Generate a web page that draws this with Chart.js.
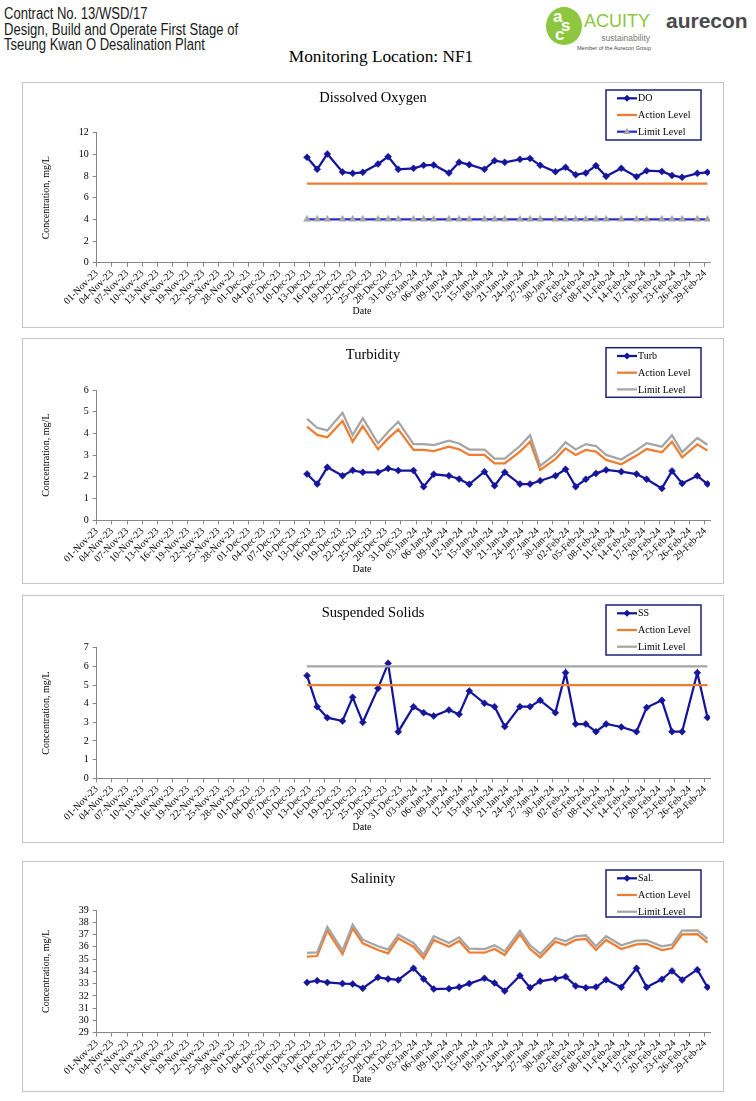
<!DOCTYPE html>
<html><head><meta charset="utf-8">
<script src="https://cdn.jsdelivr.net/npm/chart.js@4.4.0/dist/chart.umd.min.js"></script>
<style>
html,body{margin:0;padding:0;background:#fff;}
body{width:756px;height:1101px;position:relative;overflow:hidden;}
.hdr{position:absolute;left:4px;top:6px;font-family:"Liberation Sans",Arial,sans-serif;font-size:16px;line-height:15.7px;color:#1a1a1a;white-space:nowrap;transform:scaleX(0.815);transform-origin:0 0;}
.loc{position:absolute;left:0;width:762px;top:47px;text-align:center;font-family:"Liberation Serif","Times New Roman",serif;font-size:17.3px;color:#000;}
.box{position:absolute;left:22px;width:702px;border:1.5px solid #c4c4c4;box-sizing:border-box;}
canvas{position:absolute;left:23px;}
.circ{position:absolute;left:546px;top:7px;width:36px;height:38px;border-radius:50%;background:#8DC63F;overflow:hidden;font-family:"Liberation Sans",Arial,sans-serif;font-weight:bold;color:#fff;}
.circ span{position:absolute;font-size:17px;line-height:17px;}
.acu{position:absolute;left:584px;top:11px;font-family:"Liberation Sans",Arial,sans-serif;font-size:18px;color:#8DC63F;}
.sus{position:absolute;left:600px;top:33px;width:50px;text-align:right;font-family:"Liberation Sans",Arial,sans-serif;font-size:8.5px;color:#777;}
.mem{position:absolute;left:577px;top:45px;font-family:"Liberation Sans",Arial,sans-serif;font-size:5.5px;color:#444;white-space:nowrap;}
.aur{position:absolute;left:666px;top:9px;font-family:"Liberation Sans",Arial,sans-serif;font-weight:bold;font-size:21px;color:#4a4a4c;}
</style></head>
<body>
<div class="hdr">Contract No. 13/WSD/17<br>Design, Build and Operate First Stage of<br>Tseung Kwan O Desalination Plant</div>
<div class="loc">Monitoring Location: NF1</div>
<div class="circ"><span style="left:7px;top:1px">a</span><span style="left:15px;top:10px">s</span><span style="left:9px;top:19px">c</span></div>
<div class="acu">ACUITY</div>
<div class="sus">sustainability</div>
<div class="mem">Member of the Aurecon Group</div>
<div class="aur">aurecon</div>

<div class="box" style="top:82px;height:246px"></div>
<div class="box" style="top:338px;height:246px"></div>
<div class="box" style="top:595px;height:248px"></div>
<div class="box" style="top:861px;height:231px"></div>
<canvas id="c1" width="700" height="244" style="top:83px"></canvas>
<canvas id="c2" width="700" height="244" style="top:339px"></canvas>
<canvas id="c3" width="700" height="246" style="top:596px"></canvas>
<canvas id="c4" width="700" height="229" style="top:862px"></canvas>

<script>
// ---------------- data ----------------
const tickLabels = ['01-Nov-23','04-Nov-23','07-Nov-23','10-Nov-23','13-Nov-23','16-Nov-23','19-Nov-23','22-Nov-23','25-Nov-23','28-Nov-23','01-Dec-23','04-Dec-23','07-Dec-23','10-Dec-23','13-Dec-23','16-Dec-23','19-Dec-23','22-Dec-23','25-Dec-23','28-Dec-23','31-Dec-23','03-Jan-24','06-Jan-24','09-Jan-24','12-Jan-24','15-Jan-24','18-Jan-24','21-Jan-24','24-Jan-24','27-Jan-24','30-Jan-24','02-Feb-24','05-Feb-24','08-Feb-24','11-Feb-24','14-Feb-24','17-Feb-24','20-Feb-24','23-Feb-24','26-Feb-24','29-Feb-24'];

const sampleDates = ['12-Dec-23','14-Dec-23','16-Dec-23','19-Dec-23','21-Dec-23','23-Dec-23','26-Dec-23','28-Dec-23','30-Dec-23','02-Jan-24','04-Jan-24','06-Jan-24','09-Jan-24','11-Jan-24','13-Jan-24','16-Jan-24','18-Jan-24','20-Jan-24','23-Jan-24','25-Jan-24','27-Jan-24','30-Jan-24','01-Feb-24','03-Feb-24','05-Feb-24','07-Feb-24','09-Feb-24','12-Feb-24','15-Feb-24','17-Feb-24','20-Feb-24','22-Feb-24','24-Feb-24','27-Feb-24','29-Feb-24'];

const doValues = [9.73,8.62,10.04,8.37,8.25,8.34,9.11,9.79,8.62,8.71,8.99,9.02,8.28,9.27,9.05,8.62,9.42,9.27,9.54,9.63,8.99,8.40,8.80,8.12,8.28,8.96,7.97,8.71,7.94,8.49,8.43,8.06,7.88,8.25,8.34];
const doAction = [7.3,7.3,7.3,7.3,7.3,7.3,7.3,7.3,7.3,7.3,7.3,7.3,7.3,7.3,7.3,7.3,7.3,7.3,7.3,7.3,7.3,7.3,7.3,7.3,7.3,7.3,7.3,7.3,7.3,7.3,7.3,7.3,7.3,7.3,7.3];
const doLimit = [4,4,4,4,4,4,4,4,4,4,4,4,4,4,4,4,4,4,4,4,4,4,4,4,4,4,4,4,4,4,4,4,4,4,4];

const turbValues = [2.13,1.67,2.44,2.05,2.30,2.21,2.21,2.39,2.29,2.29,1.55,2.12,2.05,1.90,1.66,2.24,1.59,2.21,1.67,1.67,1.82,2.05,2.35,1.55,1.89,2.16,2.32,2.24,2.13,1.89,1.47,2.27,1.70,2.05,1.67];
const turbAction = [4.31,3.93,3.82,4.57,3.62,4.34,3.27,3.77,4.19,3.24,3.24,3.19,3.39,3.27,3.01,3.01,2.62,2.62,3.16,3.62,2.32,2.82,3.31,3.01,3.24,3.16,2.78,2.58,2.98,3.28,3.13,3.62,2.90,3.50,3.21];
const turbLimit = [4.67,4.26,4.14,4.95,3.92,4.70,3.54,4.08,4.54,3.51,3.51,3.46,3.67,3.54,3.26,3.26,2.84,2.84,3.42,3.92,2.51,3.06,3.59,3.26,3.51,3.42,3.01,2.80,3.23,3.55,3.39,3.92,3.14,3.79,3.48];

const ssValues = [5.50,3.84,3.25,3.07,4.34,3.00,4.82,6.16,2.50,3.84,3.52,3.34,3.66,3.43,4.68,4.02,3.84,2.77,3.84,3.84,4.18,3.52,5.66,2.91,2.91,2.50,2.91,2.75,2.50,3.79,4.18,2.50,2.50,5.66,3.26];
const ssAction = [5,5,5,5,5,5,5,5,5,5,5,5,5,5,5,5,5,5,5,5,5,5,5,5,5,5,5,5,5,5,5,5,5,5,5];
const ssLimit = [6,6,6,6,6,6,6,6,6,6,6,6,6,6,6,6,6,6,6,6,6,6,6,6,6,6,6,6,6,6,6,6,6,6,6];

const salValues = [33.10,33.24,33.10,33.00,32.97,32.62,33.51,33.38,33.30,34.25,33.38,32.56,32.59,32.72,33.00,33.43,33.05,32.40,33.65,32.67,33.19,33.40,33.57,32.81,32.67,32.72,33.32,32.70,34.25,32.70,33.35,34.03,33.30,34.14,32.70];
const salAction = [35.20,35.25,37.32,35.41,37.51,36.28,35.74,35.47,36.69,36.01,35.06,36.56,36.01,36.47,35.55,35.52,35.82,35.33,37.02,35.82,35.14,36.42,36.15,36.56,36.64,35.74,36.56,35.82,36.20,36.23,35.74,35.88,37.02,37.04,36.34];
const salLimit = [35.50,35.55,37.62,35.71,37.81,36.58,36.04,35.77,36.99,36.31,35.36,36.86,36.31,36.77,35.85,35.82,36.12,35.63,37.32,36.12,35.44,36.72,36.45,36.86,36.94,36.04,36.86,36.12,36.50,36.53,36.04,36.18,37.32,37.34,36.64];

// ---------------- helpers ----------------
const SERIF = '"Liberation Serif","Times New Roman",serif';
const NAVY = '#15159C', ORANGE = '#ED7D31', GRAY = '#A5A5A5', BLUE = '#2A2ACB', AXIS = '#868686';
const MON = {Jan:0,Feb:1,Mar:2,Apr:3,May:4,Jun:5,Jul:6,Aug:7,Sep:8,Oct:9,Nov:10,Dec:11};
const BASE = Date.UTC(2023,10,1);
function dayIndex(s){ const p = s.split('-'); return (Date.UTC(2000 + (+p[2]), MON[p[1]], +p[0]) - BASE) / 864e5; }
const xs = sampleDates.map(s => dayIndex(s) + 0.5);
const pts = vals => vals.map((v, i) => ({x: xs[i], y: v}));

function marker(ctx, style, x, y, r, color){
  ctx.fillStyle = color; ctx.beginPath();
  if (style === 'triangle') { ctx.moveTo(x, y - r); ctx.lineTo(x + r*0.9, y + r*0.6); ctx.lineTo(x - r*0.9, y + r*0.6); }
  else { ctx.moveTo(x, y - r); ctx.lineTo(x + r, y); ctx.lineTo(x, y + r); ctx.lineTo(x - r, y); }
  ctx.closePath(); ctx.fill();
}

const boxLegend = {
  id: 'boxLegend',
  afterDraw(chart, args, o){
    const ctx = chart.ctx; ctx.save();
    ctx.fillStyle = '#000'; ctx.textAlign = 'center'; ctx.textBaseline = 'middle';
    ctx.font = '14.5px ' + SERIF;
    ctx.fillText(o.title, o.titleX, o.titleY);
    ctx.font = '10px ' + SERIF;
    ctx.fillText(o.xTitle, o.xTitleX, chart.chartArea.bottom + o.xTitleDy);
    ctx.fillStyle = '#fff'; ctx.fillRect(o.x, o.y, o.w, o.h);
    ctx.lineWidth = 1.5; ctx.strokeStyle = '#1E1E78'; ctx.strokeRect(o.x, o.y, o.w, o.h);
    ctx.textAlign = 'left';
    chart.data.datasets.forEach((ds, i) => {
      const cy = o.y + 8.3 + i * 16.7;
      ctx.strokeStyle = ds.borderColor; ctx.lineWidth = ds.borderWidth;
      ctx.beginPath(); ctx.moveTo(o.x + 11, cy); ctx.lineTo(o.x + 31, cy); ctx.stroke();
      if (ds.pointRadius > 0) marker(ctx, ds.pointStyle, o.x + 21, cy, ds.pointRadius, ds.pointBackgroundColor);
      ctx.fillStyle = '#000'; ctx.fillText(ds.label, o.x + 32, cy + 0.5);
    });
    ctx.restore();
  }
};

function mainSet(label, vals){
  return {label, data: pts(vals), borderColor: NAVY, backgroundColor: NAVY, borderWidth: 2.25,
    pointStyle: 'rectRot', pointRadius: 3.5, pointBackgroundColor: NAVY, pointBorderColor: NAVY, pointBorderWidth: 0.5, order: 3};
}
function levelSet(label, vals, color){
  return {label, data: pts(vals), borderColor: color, backgroundColor: color, borderWidth: 2.25, pointRadius: 0, order: label === 'Action Level' ? 2 : 1};
}

function build(c){
  const top = c.canvasTop, H = c.canvasH;
  new Chart(document.getElementById(c.id), {
    type: 'line',
    data: {datasets: c.datasets},
    options: {
      responsive: false, animation: false, devicePixelRatio: 1,
      layout: {padding: {left: 0, right: 13, top: c.plotTop - top, bottom: 0}},
      plugins: {
        legend: {display: false}, tooltip: {enabled: false}, title: {display: false},
        boxLegend: {title: c.title, titleX: 350, titleY: c.titleY - top, xTitle: 'Date', xTitleX: 339, xTitleDy: c.dateDy,
                    x: 583, y: c.legY, w: 95, h: c.legH}
      },
      scales: {
        x: {type: 'linear', min: 0, max: 121,
            afterFit: s => { s.height = top + H - c.plotBottom; },
            afterBuildTicks: s => { s.ticks = tickLabels.map((_, i) => ({value: i * 3})); },
            ticks: {autoSkip: false, minRotation: 45, maxRotation: 45, padding: 1, color: '#000',
                    font: {family: SERIF, size: 10}, callback: (v, i) => tickLabels[i]},
            grid: {display: true, drawOnChartArea: false, drawTicks: true, tickLength: 4, color: AXIS},
            border: {display: true, color: AXIS, width: 1}},
        y: {min: c.yMin, max: c.yMax,
            afterFit: s => { s.width = 73.7; },
            ticks: {stepSize: c.yStep, autoSkip: false, color: '#000', font: {family: SERIF, size: 10}, padding: 4},
            grid: {display: true, drawOnChartArea: false, tickLength: 4, color: AXIS},
            border: {display: true, color: AXIS, width: 1},
            title: {display: true, text: 'Concentration, mg/L', color: '#000', font: {family: SERIF, size: 10}, padding: {top: 17.7, bottom: 0}}}
      }
    },
    plugins: [boxLegend]
  });
}

const doLimitSet = levelSet('Limit Level', doLimit, BLUE);
doLimitSet.pointStyle = 'triangle'; doLimitSet.pointRadius = 4;
doLimitSet.pointBackgroundColor = '#A6A6A6'; doLimitSet.pointBorderColor = '#A6A6A6'; doLimitSet.pointBorderWidth = 0.5;

build({id: 'c1', canvasTop: 83, canvasH: 244, plotTop: 132.7, plotBottom: 262.7, titleY: 98, dateDy: 49,
  title: 'Dissolved Oxygen', yMin: 0, yMax: 12, yStep: 2, legY: 7, legH: 50,
  datasets: [mainSet('DO', doValues), levelSet('Action Level', doAction, ORANGE), doLimitSet]});
build({id: 'c2', canvasTop: 339, canvasH: 244, plotTop: 390, plotBottom: 520.3, titleY: 355, dateDy: 49,
  title: 'Turbidity', yMin: 0, yMax: 6, yStep: 1, legY: 8.7, legH: 49.6,
  datasets: [mainSet('Turb', turbValues), levelSet('Action Level', turbAction, ORANGE), levelSet('Limit Level', turbLimit, GRAY)]});
build({id: 'c3', canvasTop: 596, canvasH: 246, plotTop: 647.7, plotBottom: 778.3, titleY: 613.3, dateDy: 49,
  title: 'Suspended Solids', yMin: 0, yMax: 7, yStep: 1, legY: 9, legH: 50,
  datasets: [mainSet('SS', ssValues), levelSet('Action Level', ssAction, ORANGE), levelSet('Limit Level', ssLimit, GRAY)]});
build({id: 'c4', canvasTop: 862, canvasH: 229, plotTop: 910, plotBottom: 1032.7, titleY: 879.3, dateDy: 46.3,
  title: 'Salinity', yMin: 29, yMax: 39, yStep: 1, legY: 8, legH: 47,
  datasets: [mainSet('Sal.', salValues), levelSet('Action Level', salAction, ORANGE), levelSet('Limit Level', salLimit, GRAY)]});
</script>
</body></html>
